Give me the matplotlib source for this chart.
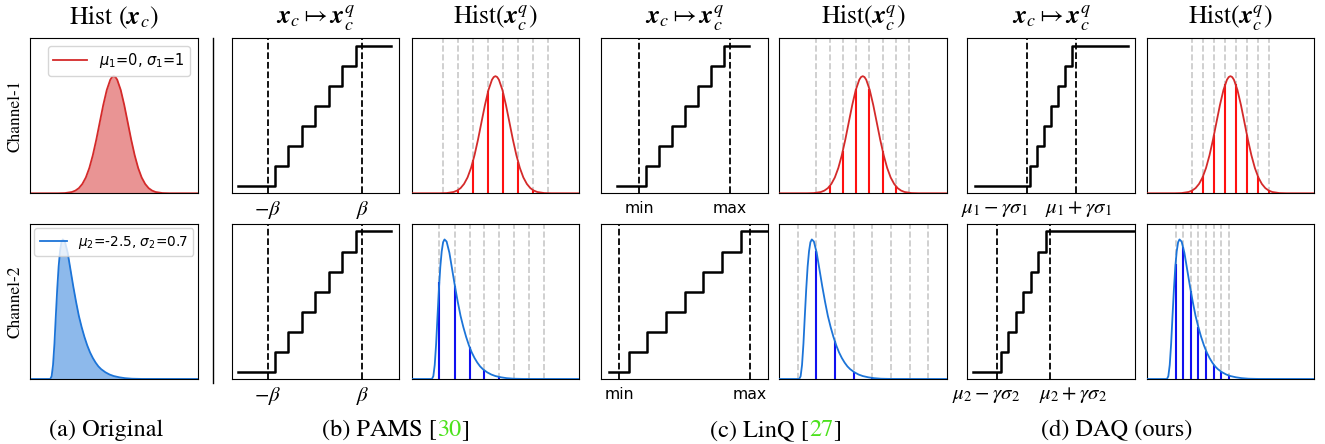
import numpy as np
import matplotlib
matplotlib.use('Agg')
import matplotlib.pyplot as plt
from matplotlib.lines import Line2D

W, H = 1325, 444

# ---------------- data ----------------
# channel-1 density, peak normalised to 1
gauss_x = [-6, -4, -3.5, -3, -2.75, -2.5, -2.25, -2, -1.75, -1.5, -1.25, -1, -0.75, -0.5, -0.25, -0.125, 0,
           0.125, 0.25, 0.5, 0.75, 1, 1.25, 1.5, 1.75, 2, 2.25, 2.5, 2.75, 3, 3.5, 4, 6]
gauss_y = [0, 0.0003, 0.002, 0.011, 0.023, 0.044, 0.08, 0.135, 0.216, 0.325, 0.458, 0.607, 0.755, 0.882, 0.969, 0.992, 1.0,
           0.992, 0.969, 0.882, 0.755, 0.607, 0.458, 0.325, 0.216, 0.135, 0.08, 0.044, 0.023, 0.011, 0.002, 0.0003, 0]

# channel-2 density (skewed), peak normalised to 1
skew_x = [-6, -4.55, -4.45, -4.35, -4.25, -4.15, -4.05, -3.95, -3.85, -3.75, -3.65, -3.5, -3.3, -3.1, -2.9,
          -2.7, -2.5, -2.3, -2.1, -1.9, -1.7, -1.5, -1.3, -1.1, -0.9, -0.6, -0.3, 0, 0.4, 0.8, 1.3, 2, 6]
skew_y = [0, 0, 0.02, 0.1, 0.25, 0.45, 0.64, 0.8, 0.91, 0.975, 0.995, 0.98, 0.9, 0.78, 0.66,
          0.55, 0.45, 0.37, 0.3, 0.24, 0.19, 0.15, 0.117, 0.09, 0.07, 0.048, 0.032, 0.021, 0.012, 0.006, 0.002, 0.0005, 0]

legend_c1 = r'$\mu_1$=0, $\sigma_1$=1'
legend_c2 = r'$\mu_2$=-2.5, $\sigma_2$=0.7'

# quantizer staircase: start, 7 jumps, end (x on a 0..10 panel scale); levels 0..7
step_levels = [0, 1, 2, 3, 4, 5, 6, 7, 7]
pams_step_x = [0.40, 2.56, 3.37, 4.17, 4.98, 5.79, 6.59, 7.40, 9.53]
pams_clip = [2.16, 7.80]
linq_step_x_c1 = [0.99, 2.69, 3.47, 4.24, 5.01, 5.79, 6.56, 7.34, 8.86]
linq_clip_c1 = [2.30, 7.72]
linq_step_x_c2 = [0.52, 1.68, 2.78, 3.90, 5.01, 6.13, 7.24, 8.35, 10.3]
linq_clip_c2 = [1.11, 8.91]
daq_step_x_c1 = [0.46, 3.76, 4.18, 4.59, 5.01, 5.42, 5.84, 6.25, 9.58]
daq_clip_c1 = [3.55, 6.46]
daq_step_x_c2 = [0.36, 2.00, 2.45, 2.90, 3.34, 3.79, 4.24, 4.69, 10.3]
daq_clip_c2 = [1.78, 4.91]

pams_ticklabels = [r'$-\beta$', r'$\beta$']
linq_ticklabels = ['min', 'max']
daq_ticklabels_c1 = [r'$\mu_1-\gamma\sigma_1$', r'$\mu_1+\gamma\sigma_1$']
daq_ticklabels_c2 = [r'$\mu_2-\gamma\sigma_2$', r'$\mu_2+\gamma\sigma_2$']
daq_tickpos_c1 = [1.61, 6.64]
daq_tickpos_c2 = [1.11, 6.33]

# quantization levels in the histogram panels and the density at each level
pams_q_c1 = [-3.73, -2.66, -1.59, -0.52, 0.55, 1.61, 2.67, 3.77]
pams_h_c1 = [0.001, 0.028, 0.28, 0.87, 0.86, 0.27, 0.027, 0.001]
pams_q_c2 = [-4.02, -2.90, -1.85, -0.80, 0.27, 1.32, 2.40, 3.47]
pams_h_c2 = [0.69, 0.66, 0.227, 0.062, 0.014, 0.002, 0, 0]
linq_q_c1 = [-3.33, -2.38, -1.43, -0.48, 0.48, 1.43, 2.38, 3.33]
linq_h_c1 = [0.004, 0.06, 0.36, 0.89, 0.89, 0.36, 0.06, 0.004]
linq_q_c2 = [-4.64, -3.33, -1.98, -0.64, 0.69, 2.02, 3.36, 4.69]
linq_h_c2 = [0, 0.91, 0.27, 0.05, 0.007, 0, 0, 0]
daq_q_c1 = [-2.73, -1.95, -1.17, -0.39, 0.39, 1.17, 1.95, 2.73]
daq_h_c1 = [0.024, 0.15, 0.50, 0.93, 0.93, 0.50, 0.15, 0.024]
daq_q_c2 = [-3.93, -3.39, -2.84, -2.29, -1.75, -1.20, -0.65, -0.11]
daq_h_c2 = [0.82, 0.94, 0.63, 0.37, 0.2, 0.103, 0.051, 0.025]

RED, RED_STEM = '#d42a2a', '#ff1010'
BLUE, BLUE_STEM = '#1c74d8', '#1010f0'
CITE_GREEN = '#4ce21c'
SERIF = 'STIXGeneral'

fig = plt.figure(figsize=(W / 100, H / 100), dpi=100)

col_left = [30, 231.7, 411.7, 600.7, 779, 967.3, 1146.7]
row_top = [38.3, 224]
pw, ph = 167.5, 155
ytop = [1.323, 1.105]  # density panels: peak sits at ~76% / ~90% of the height


def make_ax(col, row):
    ax = fig.add_axes([col_left[col] / W, 1 - (row_top[row] + ph) / H, pw / W, ph / H])
    ax.set_xticks([])
    ax.set_yticks([])
    return ax


def density_panel(ax, row, x, y, color):
    ax.plot(x, y, color=color, lw=1.3)
    ax.set_xlim(-6, 6)
    ax.set_ylim(0, ytop[row])


def step_panel(ax, xs, clip, ticks, ticklabels, math=True):
    ax.axvline(clip[0], color='black', ls='--', lw=1.3)
    ax.axvline(clip[1], color='black', ls='--', lw=1.3)
    ax.plot(xs, step_levels, drawstyle='steps-post', color='black', lw=1.8)
    ax.set_xlim(0, 10)
    ax.set_ylim(-0.35, 7.37)
    ax.set_xticks(ticks)
    if math:
        ax.set_xticklabels(ticklabels, fontsize=15)
        for lbl in ax.get_xticklabels():
            lbl.set_math_fontfamily('stix')
        ax.tick_params(axis='x', length=0, pad=4)
    else:
        ax.set_xticklabels(ticklabels, fontsize=11.3, fontfamily='DejaVu Sans')
        ax.tick_params(axis='x', length=0, pad=5.5)


def hist_panel(ax, row, x, y, color, q, h, stem_color):
    for v in q:
        ax.axvline(v, color='#c8c8c8', ls='--', lw=1.2, zorder=1)
    ax.vlines(q, 0, h, color=stem_color, lw=1.5, zorder=2)
    ax.plot(x, y, color=color, lw=1.3, zorder=3)
    ax.set_xlim(-6, 6)
    ax.set_ylim(0, ytop[row])


# (a) original distributions
ax = make_ax(0, 0)
density_panel(ax, 0, gauss_x, gauss_y, RED)
ax.fill_between(gauss_x, gauss_y, color=RED, alpha=0.5, lw=0)
ax.lines[0].set_label(legend_c1)
ax.legend(loc='upper right', fontsize=10.5, handlelength=2.3)

ax = make_ax(0, 1)
density_panel(ax, 1, skew_x, skew_y, BLUE)
ax.fill_between(skew_x, skew_y, color=BLUE, alpha=0.5, lw=0)
ax.lines[0].set_label(legend_c2)
ax.legend(loc='upper right', fontsize=9.8, handlelength=2.0, borderaxespad=0.3)

# (b) PAMS
step_panel(make_ax(1, 0), pams_step_x, pams_clip, pams_clip, pams_ticklabels)
step_panel(make_ax(1, 1), pams_step_x, pams_clip, pams_clip, pams_ticklabels)
hist_panel(make_ax(2, 0), 0, gauss_x, gauss_y, RED, pams_q_c1, pams_h_c1, RED_STEM)
hist_panel(make_ax(2, 1), 1, skew_x, skew_y, BLUE, pams_q_c2, pams_h_c2, BLUE_STEM)

# (c) LinQ
step_panel(make_ax(3, 0), linq_step_x_c1, linq_clip_c1, linq_clip_c1, linq_ticklabels, math=False)
step_panel(make_ax(3, 1), linq_step_x_c2, linq_clip_c2, linq_clip_c2, linq_ticklabels, math=False)
hist_panel(make_ax(4, 0), 0, gauss_x, gauss_y, RED, linq_q_c1, linq_h_c1, RED_STEM)
hist_panel(make_ax(4, 1), 1, skew_x, skew_y, BLUE, linq_q_c2, linq_h_c2, BLUE_STEM)

# (d) DAQ
step_panel(make_ax(5, 0), daq_step_x_c1, daq_clip_c1, daq_tickpos_c1, daq_ticklabels_c1)
step_panel(make_ax(5, 1), daq_step_x_c2, daq_clip_c2, daq_tickpos_c2, daq_ticklabels_c2)
hist_panel(make_ax(6, 0), 0, gauss_x, gauss_y, RED, daq_q_c1, daq_h_c1, RED_STEM)
hist_panel(make_ax(6, 1), 1, skew_x, skew_y, BLUE, daq_q_c2, daq_h_c2, BLUE_STEM)

# column titles
title_y = 1 - 24 / H
titles = [r'Hist ($\boldsymbol{x}_c$)',
          r'$\boldsymbol{x}_c \mapsto \boldsymbol{x}_c^q$', r'Hist($\boldsymbol{x}_c^q$)',
          r'$\boldsymbol{x}_c \mapsto \boldsymbol{x}_c^q$', r'Hist($\boldsymbol{x}_c^q$)',
          r'$\boldsymbol{x}_c \mapsto \boldsymbol{x}_c^q$', r'Hist($\boldsymbol{x}_c^q$)']
for i, t in enumerate(titles):
    fig.text((col_left[i] + pw / 2) / W, title_y, t, ha='center', va='baseline',
             fontsize=18.5, fontfamily=SERIF, math_fontfamily='stix')

# row labels
for r, lab in enumerate(['Channel-1', 'Channel-2']):
    fig.text(15 / W, 1 - (row_top[r] + ph / 2) / H, lab, rotation=90, ha='center', va='center',
             fontsize=12.5, fontfamily=SERIF)

# separator between original and the quantizers
fig.add_artist(Line2D([212.5 / W, 212.5 / W], [1 - 38 / H, 1 - 383 / H], color='black', lw=1))

# sub-captions, citation numbers in green
renderer = fig.canvas.get_renderer()


def caption(cx, parts):
    texts, widths = [], []
    for s, c in parts:
        t = fig.text(0, 8 / H, s, color=c, fontsize=17.5, fontfamily=SERIF, ha='left', va='baseline')
        widths.append(t.get_window_extent(renderer).width)
        texts.append(t)
    x = cx - sum(widths) / 2
    for t, w in zip(texts, widths):
        t.set_x(x / W)
        x += w


caption(106, [('(a) Original', 'black')])
caption(396, [('(b) PAMS [', 'black'), ('30', CITE_GREEN), (']', 'black')])
caption(776, [('(c) LinQ [', 'black'), ('27', CITE_GREEN), (']', 'black')])
caption(1117, [('(d) DAQ (ours)', 'black')])

fig.savefig('out.png', dpi=100)
